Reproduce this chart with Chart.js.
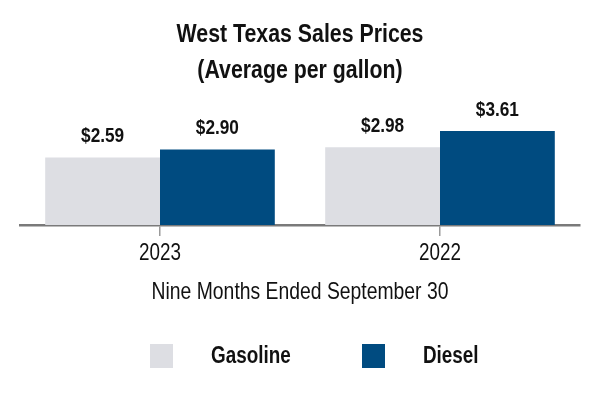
<!DOCTYPE html>
<html>
<head>
<meta charset="utf-8">
<script src="https://cdn.jsdelivr.net/npm/chart.js@4.4.1/dist/chart.umd.min.js"></script>
<style>
  html, body { margin: 0; padding: 0; background: #fff; }
  #wrap { width: 600px; height: 400px; }
</style>
</head>
<body>
<div id="wrap"><canvas id="myChart" width="600" height="400"></canvas></div>
<script>
// datos
var categorias = ["2023", "2022"];
var gasolina = [2.59, 2.98];
var diesel = [2.90, 3.61];
var seriesNombres = ["Gasoline", "Diesel"];
var tituloLineas = ["West Texas Sales Prices", "(Average per gallon)"];
var tituloEje = "Nine Months Ended September 30";

var FUENTE = "'Liberation Sans', Arial, sans-serif";
var colores = ["#dddee3", "#004b80"];

// etiquetas de valor encima de cada barra
var etiquetasBarras = {
    id: 'etiquetasBarras',
    afterDatasetsDraw: function(chart) {
        var ctx = chart.ctx;
        ctx.save();
        ctx.font = "bold 21px " + FUENTE;
        ctx.fillStyle = "#111";
        ctx.textAlign = "center";
        ctx.textBaseline = "middle";
        chart.data.datasets.forEach(function(ds, i) {
            var meta = chart.getDatasetMeta(i);
            meta.data.forEach(function(bar, j) {
                ctx.fillText("$" + ds.data[j].toFixed(2), bar.x, bar.y - 21);
            });
        });
        ctx.restore();
    }
};

// leyenda propia (cuadro, hueco grande, texto en negrita)
var leyenda = {
    id: 'leyenda',
    afterDraw: function(chart) {
        var ctx = chart.ctx;
        ctx.save();
        ctx.font = "bold 23px " + FUENTE;
        ctx.textBaseline = "middle";
        ctx.textAlign = "left";
        var x = 150;
        chart.data.datasets.forEach(function(ds) {
            ctx.fillStyle = ds.backgroundColor;
            ctx.fillRect(x, 344, 23, 24);
            ctx.fillStyle = "#111";
            ctx.fillText(ds.label, x + 61, 357);
            x = 362;
        });
        ctx.restore();
    }
};

var ctx = document.getElementById('myChart').getContext('2d');

// No hay Arial Narrow instalada: estrechamos el texto a mano
var fillTextOriginal = ctx.fillText;
ctx.fillText = function(texto, x, y, maxW) {
    this.save();
    this.translate(x, y);
    this.scale(0.82, 1);
    fillTextOriginal.call(this, texto, 0, 0);
    this.restore();
};

var myChart = new Chart(ctx, {
    type: 'bar',
    data: {
        labels: categorias,
        datasets: [{
            label: seriesNombres[0],
            data: gasolina,
            backgroundColor: colores[0]
        }, {
            label: seriesNombres[1],
            data: diesel,
            backgroundColor: colores[1]
        }]
    },
    plugins: [etiquetasBarras, leyenda],
    options: {
        responsive: false,
        animation: false,
        devicePixelRatio: 1,
        layout: {
            padding: { left: 20, right: 20, top: 0, bottom: 93 }
        },
        plugins: {
            legend: { display: false },
            tooltip: { enabled: false },
            title: {
                display: true,
                text: tituloLineas,
                color: "#111",
                font: { family: FUENTE, size: 26, weight: 'bold', lineHeight: 1.38 },
                padding: { top: 17, bottom: 32 }
            }
        },
        datasets: {
            bar: { categoryPercentage: 0.82, barPercentage: 1.0 }
        },
        scales: {
            y: {
                display: false,
                min: 0,
                max: 4
            },
            x: {
                border: { display: true, color: "#7a7a7a", width: 2.5 },
                grid: {
                    offset: false,
                    drawOnChartArea: false,
                    drawTicks: true,
                    tickLength: 11,
                    color: "#9a9a9a",
                    lineWidth: 1.5
                },
                ticks: {
                    color: "#111",
                    padding: 4,
                    font: { family: FUENTE, size: 23 }
                },
                title: {
                    display: true,
                    text: tituloEje,
                    color: "#111",
                    padding: { top: 7, bottom: 0 },
                    font: { family: FUENTE, size: 23.6 }
                }
            }
        }
    }
});
</script>
</body>
</html>
